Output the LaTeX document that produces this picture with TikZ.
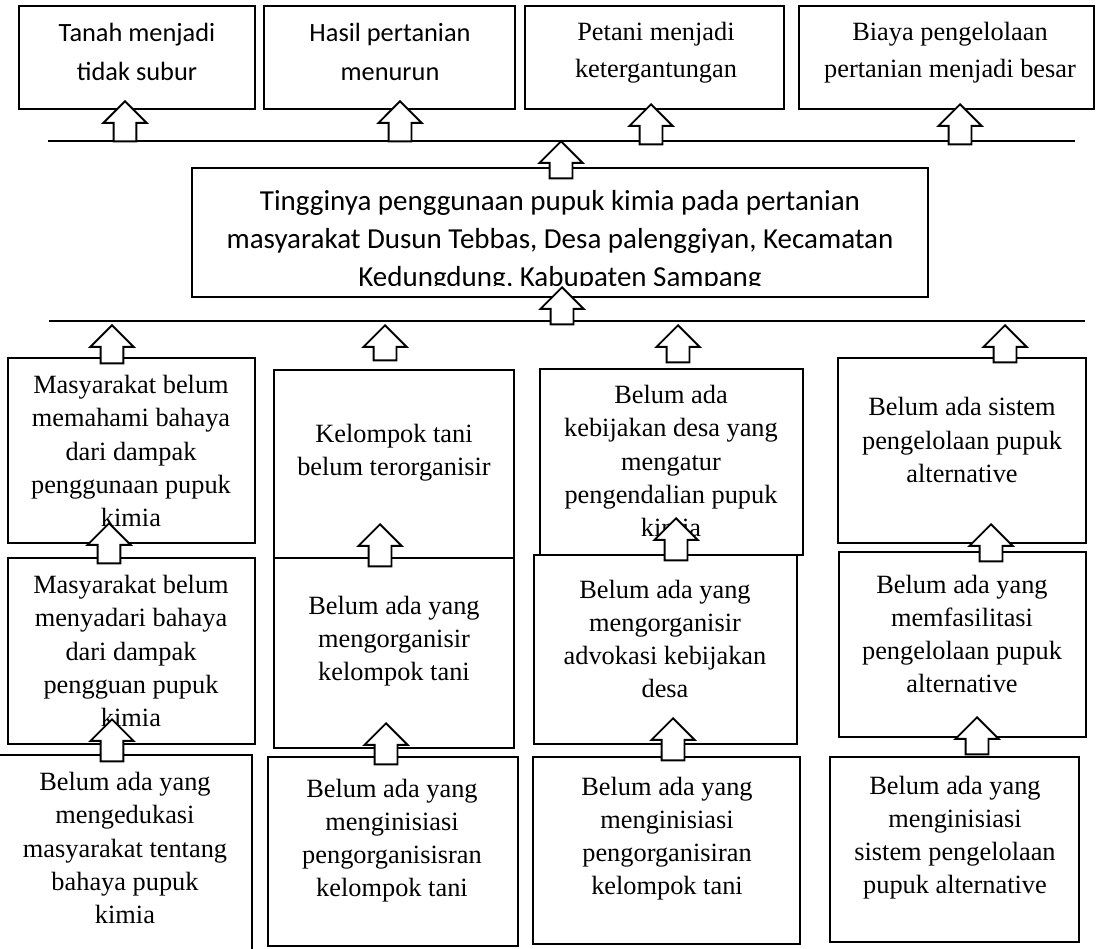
\documentclass[tikz,border=0pt]{standalone}
\usepackage{fontspec}
\setmainfont{Liberation Serif}
\newfontfamily\calibri{Carlito}
\usetikzlibrary{shapes.arrows, fit}

\begin{document}
\begin{tikzpicture}[x=0.02cm, y=-0.02cm,
    probbox/.style={draw, line width=1.3pt, inner sep=0pt},
    sepline/.style={line width=0.6pt},
    uparr/.style={single arrow, draw, fill=white, line width=1.1pt, shape border rotate=90,
        minimum height=8mm, inner sep=2.1mm, single arrow head extend=2mm, anchor=tip},
    serif/.style={align=center, inner sep=0pt, font=\fontsize{15}{18.8}\selectfont},
    topserif/.style={align=center, inner sep=0pt, font=\fontsize{15}{21}\selectfont},
    sans/.style={align=center, inner sep=0pt, font=\calibri\fontsize{15}{22.7}\selectfont},
    bigsans/.style={align=center, inner sep=0pt, font=\calibri\fontsize{16.5}{21.6}\selectfont}]
    \clip (0,0) rectangle (1096,949);

    \node[probbox, fit={(19,6) (255,109)}] (t1) {};
    \node[probbox, fit={(264,6) (515,109)}] (t2) {};
    \node[probbox, fit={(525,6) (784,109)}] (t3) {};
    \node[probbox, fit={(799,6) (1094,109)}] (t4) {};
    \node[sans] (t1txt) at (137,52) {Tanah menjadi\\tidak subur};
    \node[sans] (t2txt) at (390,52) {Hasil pertanian\\menurun};
    \node[topserif] (t3txt) at (656,53) {Petani menjadi\\ketergantungan};
    \node[topserif] (t4txt) at (950,53) {Biaya pengelolaan\\pertanian menjadi besar};

    \draw[sepline] (48,141) -- (1075,141);
    \draw[sepline] (49,321) -- (1085,321);

    \node[probbox, fit={(192,168) (928,297)}] (core) {};
    \begin{scope}
        \clip (192,168) rectangle (928,286);
        \node[bigsans] (coretxt) at (560,241) {Tingginya penggunaan pupuk kimia pada pertanian\\masyarakat Dusun Tebbas, Desa palenggiyan, Kecamatan\\Kedungdung, Kabupaten Sampang};
    \end{scope}

    \node[probbox, fit={(8,358) (255,543)}] (a1) {};
    \node[probbox, fit={(274,370) (514,558)}] (b1) {};
    \node[probbox, fit={(540,369) (803,555)}] (c1) {};
    \node[probbox, fit={(838,358) (1086,543)}] (d1) {};
    \node[serif] (a1txt) at (131,451) {Masyarakat belum\\memahami bahaya\\dari dampak\\penggunaan pupuk\\kimia};
    \node[serif] (b1txt) at (394,453) {Kelompok tani\\belum terorganisir};
    \node[serif] (c1txt) at (671,461) {Belum ada\\kebijakan desa yang\\mengatur\\pengendalian pupuk\\kimia};
    \node[serif] (d1txt) at (962,440) {Belum ada sistem\\pengelolaan pupuk\\alternative};

    \node[probbox, fit={(8,558) (255,744)}] (a2) {};
    \node[probbox, fit={(274,558) (514,748)}] (b2) {};
    \node[probbox, fit={(534,555) (797,744)}] (c2) {};
    \node[probbox, fit={(839,552) (1086,737)}] (d2) {};
    \node[serif] (a2txt) at (131,651) {Masyarakat belum\\menyadari bahaya\\dari dampak\\pengguan pupuk\\kimia};
    \node[serif] (b2txt) at (394,641) {Belum ada yang\\mengorganisir\\kelompok tani};
    \node[serif] (c2txt) at (665,639) {Belum ada yang\\mengorganisir\\advokasi kebijakan\\desa};
    \node[serif] (d2txt) at (962,634) {Belum ada yang\\memfasilitasi\\pengelolaan pupuk\\alternative};

    \node[probbox, fit={(-5,755) (252,960)}] (a3) {};
    \node[probbox, fit={(268,757) (518,946)}] (b3) {};
    \node[probbox, fit={(533,757) (800,944)}] (c3) {};
    \node[probbox, fit={(830,757) (1079,942)}] (d3) {};
    \node[serif] (a3txt) at (125,848) {Belum ada yang\\mengedukasi\\masyarakat tentang\\bahaya pupuk\\kimia};
    \node[serif] (b3txt) at (392,841) {Belum ada yang\\menginisiasi\\pengorganisisran\\kelompok tani};
    \node[serif] (c3txt) at (667,839) {Belum ada yang\\menginisiasi\\pengorganisiran\\kelompok tani};
    \node[serif] (d3txt) at (955,838) {Belum ada yang\\menginisiasi\\sistem pengelolaan\\pupuk alternative};

    \node[uparr] (up1) at (125,100) {};
    \node[uparr] (up2) at (400,100) {};
    \node[uparr] (up3) at (651,103) {};
    \node[uparr] (up4) at (960,103) {};
    \node[uparr, minimum height=7.4mm] (upcore) at (561,140) {};
    \node[uparr, minimum height=7.4mm] (upline) at (562,286) {};
    \node[uparr, minimum height=7.6mm] (upa) at (112,324) {};
    \node[uparr, minimum height=7mm] (upb) at (385,324) {};
    \node[uparr, minimum height=7.4mm] (upc) at (678,324) {};
    \node[uparr, minimum height=7.4mm] (upd) at (1005,324) {};
    \node[uparr] (upa2) at (109,522) {};
    \node[uparr, minimum height=8.4mm] (upb2) at (380,523) {};
    \node[uparr, minimum height=8.4mm] (upc2) at (676,517) {};
    \node[uparr, minimum height=7.4mm] (upd2) at (991,523) {};
    \node[uparr, minimum height=8.4mm] (upa3) at (112,718) {};
    \node[uparr, minimum height=8.2mm] (upb3) at (386,722) {};
    \node[uparr, minimum height=8.4mm] (upc3) at (673,717) {};
    \node[uparr, minimum height=7.4mm] (upd3) at (977,716) {};
\end{tikzpicture}
\end{document}
